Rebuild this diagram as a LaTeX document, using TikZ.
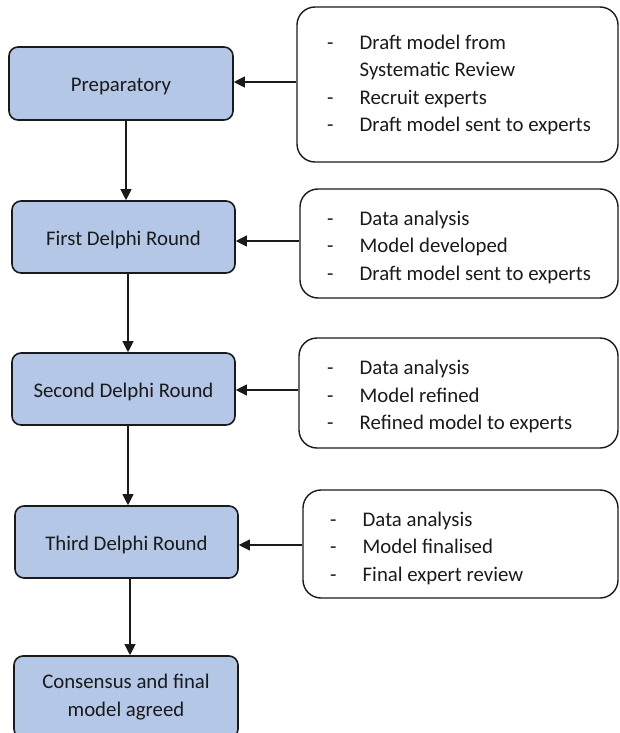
\documentclass[tikz,border=0pt]{standalone}
\usepackage{fontspec}
\setmainfont{Carlito}
\usetikzlibrary{arrows.meta}
\definecolor{boxblue}{HTML}{B4C7E7}
\definecolor{ink}{HTML}{1A1A1A}
\tikzset{
  stage/.style={draw=ink, line width=1.6pt, fill=boxblue, rounded corners=9pt,
    inner sep=0pt, align=center, text=ink,
    font=\fontsize{20.8}{28}\selectfont},
  oneline/.style={text height=17pt, text depth=0pt},
  notebox/.style={draw=ink, line width=1.4pt, rounded corners=18pt, inner sep=0pt},
  notetext/.style={anchor=west, inner sep=0pt, align=left, text=ink,
    font=\fontsize{20.8}{27.5}\selectfont},
  arr/.style={draw=ink, line width=1.1pt, -{Triangle[length=11pt,width=11pt]}},
}
\newcommand{\bul}{\makebox[32.5pt][l]{-}}
\newcommand{\nob}{\hspace*{32.5pt}}
\begin{document}
\begin{tikzpicture}[x=1pt,y=-1pt]
\useasboundingbox (0,0) rectangle (619,733);
\begin{scope}
\clip (0,0) rectangle (619,733);
% left stages
\node[stage, oneline, minimum width=224pt, minimum height=73pt] (prep) at (121,83.5) {Preparatory};
\node[stage, oneline, minimum width=223pt, minimum height=72pt] (first) at (123.5,237) {First Delphi Round};
\node[stage, oneline, minimum width=223pt, minimum height=72pt] (second) at (123.5,389) {Second Delphi Round};
\node[stage, oneline, minimum width=223pt, minimum height=72pt] (third) at (126.5,542) {Third Delphi Round};
\node[stage, minimum width=224pt, minimum height=82pt] (cons) at (126,697) {\raisebox{-2pt}{\begin{tabular}{@{}c@{}}Consensus and final\\model agreed\end{tabular}}};
% right note boxes
\node[notebox, minimum width=321pt, minimum height=155pt] (r1) at (457.5,84.5) {};
\node[notebox, minimum width=318pt, minimum height=109pt] (r2) at (459,243.5) {};
\node[notebox, minimum width=319pt, minimum height=110pt] (r3) at (458.5,393) {};
\node[notebox, minimum width=315pt, minimum height=108pt] (r4) at (460.5,544) {};
% note texts
\node[notetext] (t1) at (327,85) {\bul Draft model from\\\nob Systematic Review\\\bul Recruit experts\\\bul Draft model sent to experts};
\node[notetext] (t2) at (327,247) {\bul Data analysis\\\bul Model developed\\\bul Draft model sent to experts};
\node[notetext] (t3) at (327,396.5) {\bul Data analysis\\\bul Model refined\\\bul Refined model to experts};
\node[notetext] (t4) at (330,548) {\bul Data analysis\\\bul Model finalised\\\bul Final expert review};
% horizontal arrows
\draw[arr] ([yshift=2.5pt]r1.west) -- ([yshift=2.5pt]r1.west -| prep.east);
\draw[arr] ([yshift=2.5pt]r2.west) -- ([yshift=2.5pt]r2.west -| first.east);
\draw[arr] ([yshift=3pt]r3.west) -- ([yshift=3pt]r3.west -| second.east);
\draw[arr] ([yshift=-1pt]r4.west) -- ([yshift=-1pt]r4.west -| third.east);
% vertical arrows
\draw[arr] ([xshift=5pt]prep.south) -- ([xshift=5pt]prep.south |- first.north);
\draw[arr] ([xshift=4.5pt]first.south) -- ([xshift=4.5pt]first.south |- second.north);
\draw[arr] ([xshift=4.5pt]second.south) -- ([xshift=4.5pt]second.south |- third.north);
\draw[arr] ([xshift=3.5pt]third.south) -- ([xshift=3.5pt]third.south |- cons.north);
\end{scope}
\end{tikzpicture}
\end{document}
